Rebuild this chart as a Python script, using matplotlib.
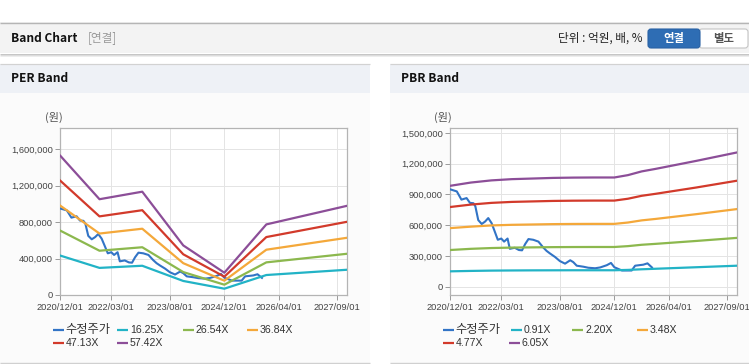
import matplotlib
matplotlib.use('Agg')
import matplotlib.pyplot as plt
import pandas as pd
from matplotlib.patches import Rectangle, FancyBboxPatch
from matplotlib.ticker import FuncFormatter

# ---------------- data ----------------
price_dates = ["2020-12-01", "2021-01-28", "2021-03-10", "2021-04-25", "2021-05-25", "2021-06-25",
               "2021-07-12", "2021-08-07", "2021-09-07", "2021-10-07", "2021-11-04", "2021-12-04",
               "2021-12-28", "2022-01-28", "2022-02-28", "2022-03-25", "2022-04-25", "2022-05-15",
               "2022-06-28", "2022-08-04", "2022-09-01", "2022-09-28", "2022-10-28", "2022-12-10",
               "2023-01-25", "2023-03-07", "2023-04-07", "2023-05-07", "2023-06-22", "2023-08-04",
               "2023-09-19", "2023-11-04", "2023-12-01", "2024-01-01", "2024-03-01", "2024-04-13",
               "2024-06-13", "2024-07-28", "2024-09-25", "2024-11-01", "2024-12-01", "2025-02-07",
               "2025-05-04", "2025-06-04", "2025-08-16", "2025-09-22", "2025-11-01"]
price = [950000, 930000, 850000, 865000, 818000, 815000,
         785000, 650000, 612000, 636000, 670000, 620000,
         550000, 458000, 470000, 440000, 470000, 370000,
         380000, 358000, 355000, 415000, 465000, 458000,
         440000, 385000, 350000, 325000, 290000, 250000,
         225000, 258000, 240000, 205000, 195000, 185000,
         180000, 188000, 210000, 232000, 190000, 158000,
         158000, 205000, 215000, 228000, 188000]

per_dates = ["2020-12-01", "2021-11-15", "2022-12-01", "2023-12-01", "2024-12-01", "2025-12-10", "2027-12-01"]
per_labels = ["16.25X", "26.54X", "36.84X", "47.13X", "57.42X"]
per_1625 = [433000, 297900, 321300, 154200, 69300, 219500, 277600]
per_2654 = [707200, 486500, 524700, 251900, 113200, 358600, 453300]
per_3684 = [981600, 675300, 728300, 349600, 157200, 497700, 629200]
per_4713 = [1255800, 863900, 931800, 447300, 201100, 636700, 805000]
per_5742 = [1530000, 1052500, 1135200, 544900, 245000, 775700, 980700]

pbr_dates = ["2020-12-01", "2021-06-01", "2021-12-01", "2022-06-01", "2022-12-01", "2023-06-01",
             "2023-12-01", "2024-06-01", "2024-12-01", "2025-04-01", "2025-08-01", "2025-12-01",
             "2026-12-01", "2027-12-01"]
pbr_labels = ["0.91X", "2.20X", "3.48X", "4.77X", "6.05X"]
pbr_091 = [150000, 154000, 157000, 158500, 159500, 160000, 160500, 160500, 160500, 164000, 170000, 175000, 190000, 205000]
pbr_220 = [358200, 369600, 377300, 381700, 383900, 386100, 387200, 387600, 387600, 396000, 409200, 418000, 446600, 476700]
pbr_348 = [572000, 586000, 598000, 604000, 607300, 610700, 612500, 613200, 613200, 626400, 647300, 661200, 708000, 758000]
pbr_477 = [778000, 801400, 818100, 827600, 832400, 837100, 839500, 840500, 840500, 858600, 887200, 906300, 968300, 1035000]
pbr_605 = [985000, 1016400, 1037600, 1049700, 1055700, 1061800, 1064800, 1066000, 1066000, 1089000, 1125300, 1149500, 1228200, 1311000]

price_label = "수정주가"
xtick_dates = ["2020-12-01", "2022-03-01", "2023-08-01", "2024-12-01", "2026-04-01", "2027-09-01"]
xtick_labels = ["2020/12/01", "2022/03/01", "2023/08/01", "2024/12/01", "2026/04/01", "2027/09/01"]
per_yticks = [0, 400000, 800000, 1200000, 1600000]
pbr_yticks = [0, 300000, 600000, 900000, 1200000, 1500000]

colors = ["#3274c6", "#22b3c6", "#8cb84e", "#f4a83a", "#d23a2b", "#8c4e98"]

# ---------------- figure ----------------
W, H = 749, 364
KR = ['Noto Sans CJK KR', 'DejaVu Sans']
LAT = ['Liberation Sans', 'DejaVu Sans']
fig = plt.figure(figsize=(W / 100, H / 100), dpi=100)
fig.patch.set_facecolor('white')
bg = fig.add_axes([0, 0, 1, 1], zorder=0)
bg.set_xlim(0, W)
bg.set_ylim(H, 0)
bg.axis('off')


def rect(x0, y0, x1, y1, fc, ec='none', lw=0, z=1):
    bg.add_patch(Rectangle((x0, y0), x1 - x0, y1 - y0, facecolor=fc, edgecolor=ec, linewidth=lw, zorder=z))


def hline(y, x0, x1, c, lw=1.0, z=2):
    bg.plot([x0, x1], [y, y], color=c, lw=lw * 0.72, zorder=z, solid_capstyle='butt')


# header bar
rect(0, 22, W, 53, '#f3f3f3')
hline(22.5, 0, W, '#b5b5b5', 1.4)
hline(53.5, 0, W, '#c6c6c6')
hline(54.5, 0, W, '#dcdcdc')
hline(55.5, 0, W, '#ededed')
bg.text(11, 38, "Band Chart", fontsize=8.6, fontweight='bold', va='center', ha='left', family=KR, color='#111', zorder=3)
bg.text(88, 38, "[연결]", fontsize=8.4, va='center', ha='left', family=KR, color='#999', zorder=3)
bg.text(642, 38, "단위 : 억원, 배, %", fontsize=8.4, va='center', ha='right', family=KR, color='#222', zorder=3)
bg.add_patch(FancyBboxPatch((699, 29), 49, 19, boxstyle="round,pad=0,rounding_size=3",
                            facecolor='white', edgecolor='#c4c4c4', linewidth=0.8, zorder=3))
bg.add_patch(FancyBboxPatch((648, 29), 52, 19, boxstyle="round,pad=0,rounding_size=3",
                            facecolor='#2e6db4', edgecolor='#2a62a5', linewidth=0.8, zorder=4))
bg.text(674, 38.5, "연결", fontsize=8.2, fontweight='bold', va='center', ha='center', family=KR, color='white', zorder=5)
bg.text(724, 38.5, "별도", fontsize=8.2, fontweight='bold', va='center', ha='center', family=KR, color='#555', zorder=5)

# panels
for (x0, x1, title) in [(0, 370, "PER Band"), (390, W, "PBR Band")]:
    rect(x0, 64, x1, 364, '#fbfbfb')
    rect(x0, 64, x1, 93, '#eef1f6')
    hline(64, x0, x1, '#d2d2d2', 1.2)
    hline(362.5, x0, x1, '#d0d0d0', 1.4)
    bg.text(x0 + 11, 79, title, fontsize=8.6, fontweight='bold', va='center', ha='left', family=KR, color='#111', zorder=3)

bg.text(45, 117, "(원)", fontsize=8.0, va='center', ha='left', family=KR, color='#555', zorder=3)
bg.text(434, 117, "(원)", fontsize=8.0, va='center', ha='left', family=KR, color='#555', zorder=3)

xt = pd.to_datetime(xtick_dates)
fmt = FuncFormatter(lambda v, p: f"{int(round(v)):,}")


def make_axes(left, bands_dates, bands, yticks, ylim):
    ax = fig.add_axes([left / W, (H - 295) / H, 287 / W, 167 / H], zorder=2)
    ax.set_facecolor('white')
    ax.plot(pd.to_datetime(price_dates), price, color=colors[0], lw=1.5, zorder=3)
    bd = pd.to_datetime(bands_dates)
    for vals, c in zip(bands, colors[1:]):
        ax.plot(bd, vals, color=c, lw=1.6, zorder=3)
    ax.set_xlim(pd.Timestamp("2020-12-01"), pd.Timestamp("2027-12-01"))
    ax.set_ylim(*ylim)
    ax.set_xticks(xt)
    ax.set_xticklabels(xtick_labels)
    ax.set_yticks(yticks)
    ax.yaxis.set_major_formatter(fmt)
    ax.grid(True, color='#e4e4e4', lw=0.7)
    ax.set_axisbelow(True)
    for s in ax.spines.values():
        s.set_color('#b4b4b4')
        s.set_linewidth(0.9)
    ax.tick_params(axis='both', colors='#999', labelcolor='#444', labelsize=6.7, width=0.7, length=3.5, pad=2)
    for lab in ax.get_xticklabels() + ax.get_yticklabels():
        lab.set_family(LAT)
    return ax


make_axes(60.3, per_dates, [per_1625, per_2654, per_3684, per_4713, per_5742], per_yticks, (0, 1835000))
make_axes(450.3, pbr_dates, [pbr_091, pbr_220, pbr_348, pbr_477, pbr_605], pbr_yticks, (-81000, 1549000))


# legends
def legend(cols, labels):
    rows = [330, 343]
    for i, lab in enumerate(labels):
        r, c = divmod(i, 4)
        x = cols[r][c]
        y = rows[r]
        bg.plot([x, x + 11], [y, y], color=colors[i], lw=1.6, zorder=3, solid_capstyle='butt')
        if i:
            bg.text(x + 13, y, lab, fontsize=7.6, va='center', ha='left', family=LAT, color='#333', zorder=3)
        else:
            bg.text(x + 12, y, lab, fontsize=8.8, va='center', ha='left', family=KR, color='#333', zorder=3)


legend([[53, 117, 183, 247], [53, 117]], [price_label] + per_labels)
legend([[443, 511, 572, 637], [443, 509]], [price_label] + pbr_labels)

fig.savefig("out.png", dpi=100, facecolor='white')
